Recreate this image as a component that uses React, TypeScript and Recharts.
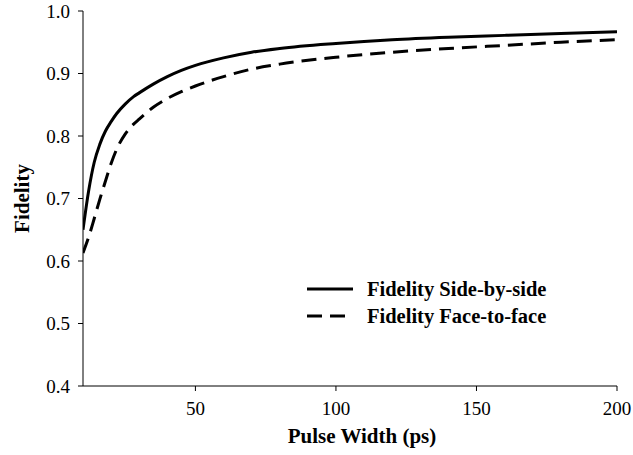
import { LineChart, Line, XAxis, YAxis } from 'recharts';

// pulse width (ps)
const pulseWidth = [10, 12, 14, 16, 18, 20, 22, 25, 28, 30, 35, 40, 45, 50, 60, 70, 80, 100, 120, 140, 160, 180, 200];
const sideBySide = [0.65, 0.712, 0.758, 0.787, 0.808, 0.823, 0.836, 0.851, 0.863, 0.869, 0.883, 0.895, 0.905, 0.913, 0.925, 0.934, 0.94, 0.948, 0.954, 0.958, 0.961, 0.964, 0.967];
const faceToFace = [0.613, 0.638, 0.668, 0.699, 0.728, 0.756, 0.779, 0.803, 0.819, 0.827, 0.846, 0.86, 0.871, 0.88, 0.895, 0.907, 0.915, 0.926, 0.934, 0.94, 0.945, 0.95, 0.954];
const xTicks = [50, 100, 150, 200];
const yTicks = [0.4, 0.5, 0.6, 0.7, 0.8, 0.9, 1.0];

const data = pulseWidth.map((x, i) => ({ x, side: sideBySide[i], face: faceToFace[i] }));

const FONT = 'Liberation Serif';
const INK = '#000';
const DASH = '15 8';

const legendItems = [
  { label: 'Fidelity Side-by-side', dash: undefined },
  { label: 'Fidelity Face-to-face', dash: DASH },
];

function FidelityLegend() {
  return (
    <svg width={260} height={60} style={{ display: 'block' }}>
      {legendItems.map((it, i) => (
        <g key={it.label} transform={`translate(0, ${11 + i * 27})`}>
          <line x1={2} x2={48} y1={0} y2={0} stroke={INK} strokeWidth={3} strokeDasharray={it.dash} />
          <text x={62} y={0} dy="0.35em" style={{ fontFamily: FONT, fontWeight: 'bold', fontSize: 20.5 }} fill={INK}>
            {it.label}
          </text>
        </g>
      ))}
    </svg>
  );
}

const labelStyle = { fontFamily: FONT, fontWeight: 'bold' as const, fontSize: 21 };

function XTitle({ viewBox }: any) {
  return (
    <text x={viewBox.x + viewBox.width / 2 + 12} y={viewBox.y + 57} textAnchor="middle" style={labelStyle} fill={INK}>
      Pulse Width (ps)
    </text>
  );
}

function YTitle({ viewBox }: any) {
  const cx = viewBox.x + 29;
  const cy = viewBox.y + viewBox.height / 2;
  return (
    <text x={cx} y={cy} transform={`rotate(-90, ${cx}, ${cy})`} textAnchor="middle" style={labelStyle} fill={INK}>
      Fidelity
    </text>
  );
}

export default function App() {
  return (
    <div style={{ position: 'absolute', left: 0, top: 0, width: 633, height: 455, background: '#fff', fontFamily: FONT }}>
      <LineChart width={633} height={455} data={data} margin={{ top: 11, right: 16, left: 0, bottom: 0 }}>
        <XAxis
          dataKey="x"
          type="number"
          domain={[10, 200]}
          ticks={xTicks}
          allowDataOverflow
          height={69}
          stroke={INK}
          tickSize={5}
          tickMargin={11}
          tick={{ fontSize: 19, fill: INK, style: { fontFamily: FONT } }}
          label={<XTitle />}
        />
        <XAxis xAxisId="top" orientation="top" dataKey="x" type="number" domain={[10, 200]} height={0} tick={false} tickLine={false} stroke={INK} />
        <YAxis
          type="number"
          domain={[0.4, 1.0]}
          ticks={yTicks}
          width={83}
          stroke={INK}
          tickSize={5}
          tickMargin={8}
          tickFormatter={(v: number) => v.toFixed(1)}
          tick={{ fontSize: 19, fill: INK, style: { fontFamily: FONT } }}
          label={<YTitle />}
        />
        <YAxis yAxisId="right" orientation="right" domain={[0.4, 1.0]} width={0} tick={false} tickLine={false} stroke={INK} />
        <Line dataKey="side" type="monotone" stroke={INK} strokeWidth={3} dot={false} isAnimationActive={false} />
        <Line dataKey="face" type="monotone" stroke={INK} strokeWidth={3} strokeDasharray={DASH} dot={false} isAnimationActive={false} />
      </LineChart>
      <div style={{ position: 'absolute', left: 305, top: 278 }}>
        <FidelityLegend />
      </div>
    </div>
  );
}
